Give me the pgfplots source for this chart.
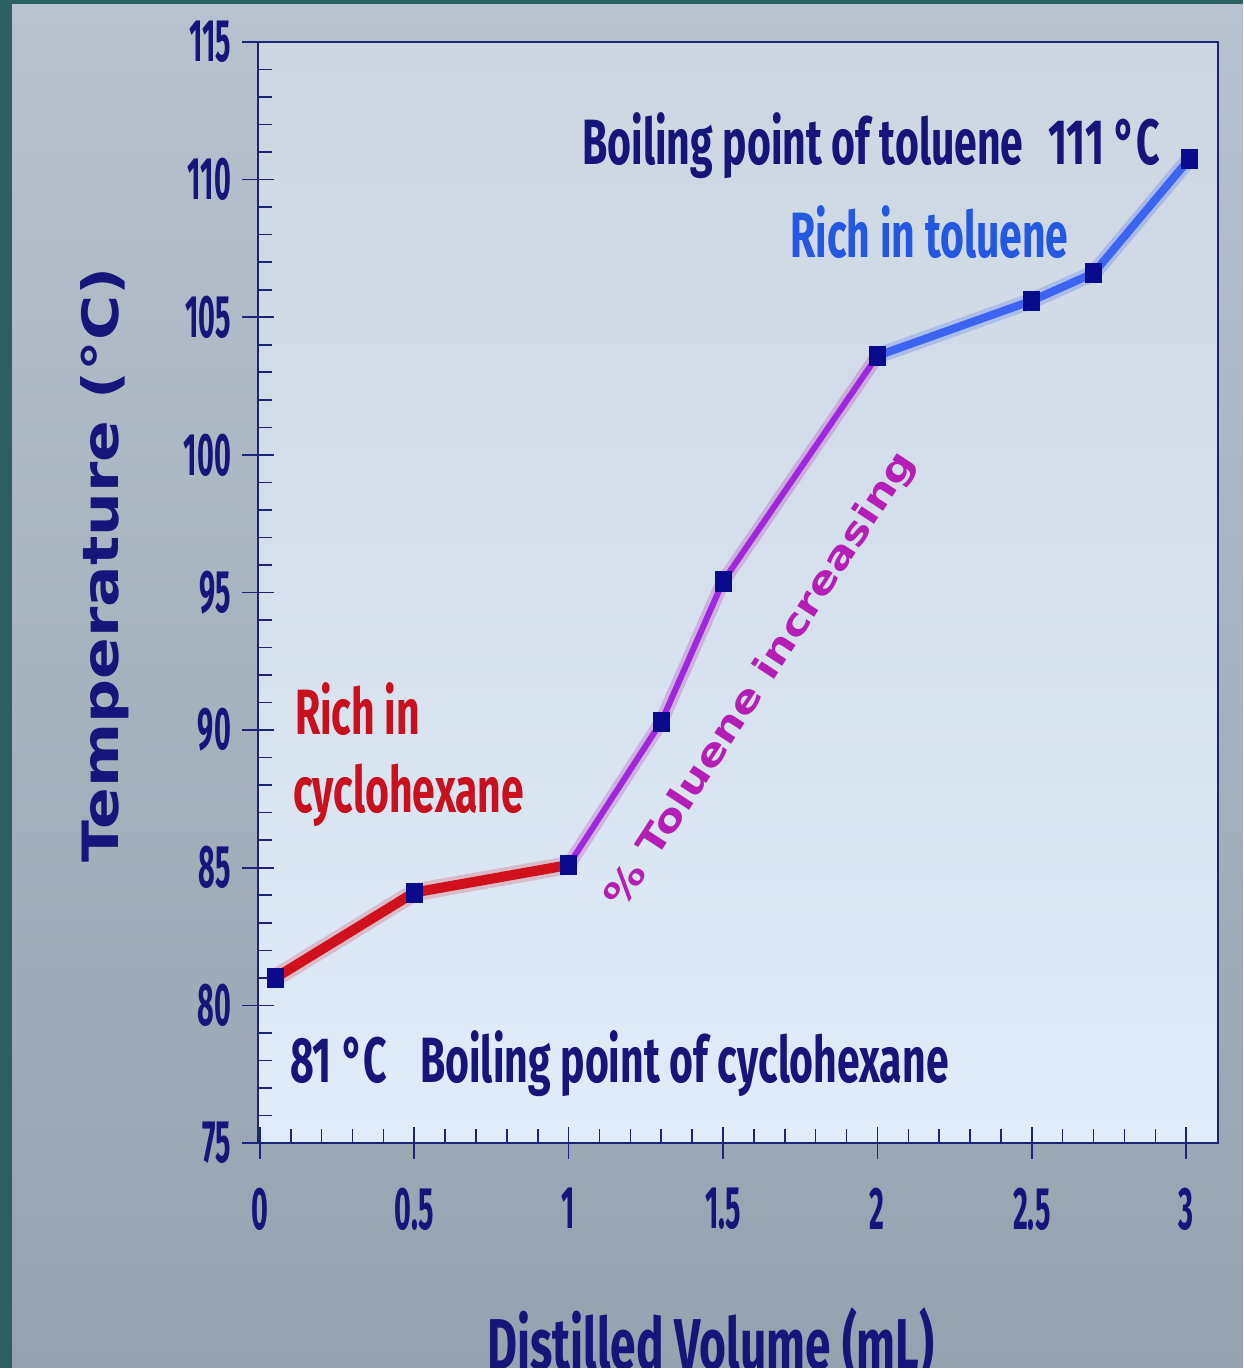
\documentclass[border=0pt]{standalone}
\usepackage{pgfplots}
\pgfplotsset{compat=1.18}
\usepackage{fontspec}
\setmainfont{Fira Sans}
\newfontfamily\cond{Fira Sans}[FakeStretch=0.64]
\newfontfamily\tickf{Fira Sans}[FakeStretch=0.48]
\newfontfamily\wide{DejaVu Sans}[FakeStretch=1.23]

\definecolor{navy}{RGB}{22,22,122}
\definecolor{axisnavy}{RGB}{28,36,120}
\definecolor{markblue}{RGB}{10,10,140}
\definecolor{redline}{RGB}{208,16,28}
\definecolor{purpline}{RGB}{160,40,220}
\definecolor{blueline}{RGB}{60,100,240}
\definecolor{redtext}{RGB}{200,16,30}
\definecolor{bluetext}{RGB}{36,88,224}
\definecolor{magtext}{RGB}{180,30,180}
\definecolor{tealbg}{RGB}{44,96,96}

\begin{document}
\begin{tikzpicture}
\path[use as bounding box] (0,0) rectangle (621.5pt,684pt);
\fill[tealbg] (0,0) rectangle (621.5pt,684pt);
\shade[top color={rgb,255:red,184;green,194;blue,206},
       middle color={rgb,255:red,200;green,214;blue,228},
       bottom color={rgb,255:red,150;green,162;blue,176}]
  (6pt,0) rectangle (621.5pt,681.5pt);

\begin{axis}[
  at={(129pt,112.5pt)}, anchor=south west,
  scale only axis, width=480pt, height=550.5pt,
  xmin=-0.006, xmax=3.103, ymin=75, ymax=115,
  clip=false,
  axis background/.style={shade,
    top color={rgb,255:red,204;green,213;blue,224},
    middle color={rgb,255:red,230;green,238;blue,248},
    bottom color={rgb,255:red,224;green,236;blue,250}},
  axis line style={axisnavy, line width=1.3pt},
  xtick={0,0.5,1,1.5,2,2.5,3},
  xticklabels={0,0.5,1,1.5,2,2.5,3},
  ytick={75,80,85,90,95,100,105,110,115},
  yticklabels={75,80,85,90,95,100,105,110,115},
  minor x tick num=4, minor y tick num=4,
  xtick pos=bottom, ytick pos=left,
  tick align=center,
  major tick length=16pt, minor tick length=7pt,
  tick style={axisnavy, line width=0.8pt},
  minor x tick style={yshift=3.5pt},
  minor y tick style={xshift=3.5pt},
  ticklabel style={text=navy, font=\tickf\bfseries\fontsize{30}{34}\selectfont},
  yticklabel style={xshift=-2pt},
  xticklabel style={yshift=-11pt},
]
\addplot[redline, line width=5pt, line cap=round,
  preaction={draw, redline, line width=9pt, opacity=0.2}]
  coordinates {(0.05,81.0) (0.5,84.1) (1.0,85.1)};
\addplot[purpline, line width=3pt, line cap=round,
  preaction={draw, magtext, line width=7pt, opacity=0.25}]
  coordinates {(1.0,85.1) (1.3,90.3) (1.5,95.4) (2.0,103.6)};
\addplot[blueline, line width=4pt, line cap=round,
  preaction={draw, blueline, line width=8pt, opacity=0.25}]
  coordinates {(2.0,103.6) (2.5,105.6) (2.7,106.6) (3.01,110.75)};
\addplot[only marks, mark=square*, mark size=4pt, markblue,
  mark options={yscale=1.2}]
  coordinates {(0.05,81.0) (0.5,84.1) (1.0,85.1) (1.3,90.3) (1.5,95.4)
               (2.0,103.6) (2.5,105.6) (2.7,106.6) (3.01,110.75)};

\node[anchor=base west, text=navy, inner sep=0pt,
  font=\cond\bfseries\fontsize{32}{36}\selectfont]
  at (axis cs:1.043,110.54) {Boiling point of toluene};
\node[anchor=base west, text=navy, inner sep=0pt,
  font=\cond\bfseries\fontsize{32}{36}\selectfont]
  at (axis cs:2.553,110.54) {111\,°C};
\node[anchor=base west, text=bluetext, inner sep=0pt,
  font=\cond\bfseries\fontsize{32}{36}\selectfont]
  at (axis cs:1.717,107.16) {Rich in toluene};
\node[anchor=base west, text=redtext, inner sep=0pt,
  font=\cond\bfseries\fontsize{32}{36}\selectfont]
  at (axis cs:0.113,89.83) {Rich in};
\node[anchor=base west, text=redtext, inner sep=0pt,
  font=\cond\bfseries\fontsize{32}{36}\selectfont]
  at (axis cs:0.107,86.99) {cyclohexane};
\node[anchor=base west, text=navy, inner sep=0pt,
  font=\cond\bfseries\fontsize{32}{36}\selectfont]
  at (axis cs:0.097,77.18) {81\,°C};
\node[anchor=base west, text=navy, inner sep=0pt,
  font=\cond\bfseries\fontsize{32}{36}\selectfont]
  at (axis cs:0.518,77.18) {Boiling point of cyclohexane};
\node[rotate=57, text=magtext, inner sep=0pt,
  font=\wide\bfseries\fontsize{18.3}{22}\selectfont]
  at (axis cs:1.625,91.8) {\% Toluene increasing};
\end{axis}

\node[rotate=90, text=navy, inner sep=0pt,
  font=\wide\bfseries\fontsize{25}{30}\selectfont]
  at (52.5pt,401.5pt) {Temperature (°C)};
\node[anchor=base, text=navy, inner sep=0pt,
  font=\cond\bfseries\fontsize{36}{42}\selectfont]
  at (355.5pt,-1pt) {Distilled Volume (mL)};
\end{tikzpicture}
\end{document}
